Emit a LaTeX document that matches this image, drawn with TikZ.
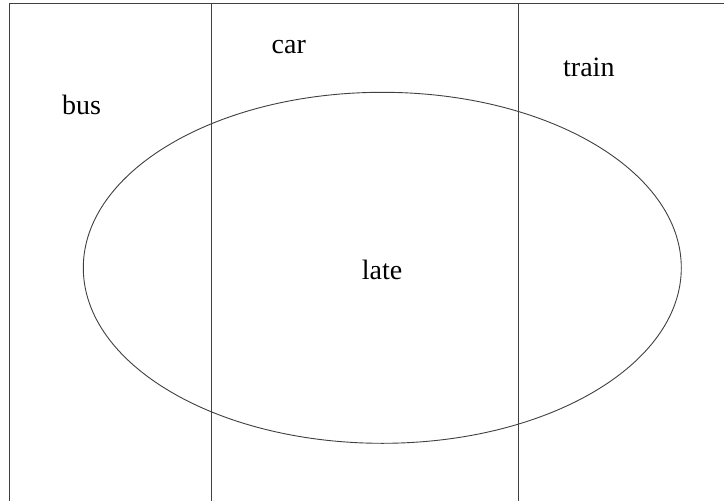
\documentclass[tikz,border=0pt]{standalone}
\usepackage{fontspec}
\setmainfont{Liberation Serif}
\begin{document}
\begin{tikzpicture}[x=1pt,y=-1pt,
  lbl/.style={anchor=base west,inner sep=0pt,font=\fontsize{28}{32}\selectfont},
  ln/.style={draw=black!75,line width=0.9pt}]
\useasboundingbox (0,0) rectangle (724,501);
\fill[white] (0,0) rectangle (724,501);
\coordinate (tl) at (9.5,3.5);
\coordinate (tr) at (724,3.5);
\coordinate (bl) at (9.5,501);
\coordinate (a1) at (211,3.5);
\coordinate (a2) at (211,501);
\coordinate (b1) at (518,3.5);
\coordinate (b2) at (518,501);
\coordinate (ec) at (382.3,267.8);
\draw[ln] (bl) -- (tl) -- (tr);
\draw[ln] (a1) -- (a2);
\draw[ln] (b1) -- (b2);
\draw[ln] (ec) ellipse [x radius=299, y radius=175.5];
\node[lbl] (bus) at (62,114) {bus};
\node[lbl] (car) at (271.5,53.3) {car};
\node[lbl] (train) at (563,76.7) {train};
\node[lbl] (late) at (361.7,279) {late};
\end{tikzpicture}
\end{document}
